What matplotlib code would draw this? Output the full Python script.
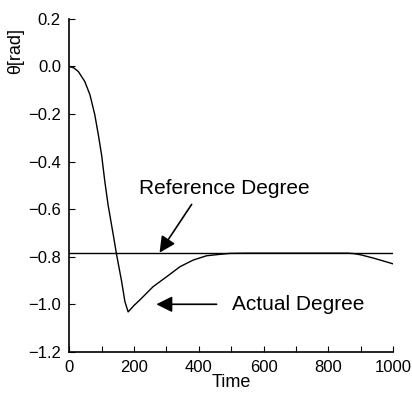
import numpy as np
import matplotlib
matplotlib.use("Agg")
import matplotlib.pyplot as plt
from matplotlib.ticker import MultipleLocator

plt.rcParams['font.family'] = ['Liberation Sans', 'DejaVu Sans']
plt.rcParams['axes.unicode_minus'] = True

# reference angle (constant)
ref_value = -0.785

# actual angle
time = [0, 14, 28, 48, 64, 79, 90, 100, 110, 120, 136, 146, 162, 172, 182, 200, 218,
        259, 301, 342, 383, 424, 465, 496, 550, 700, 860, 880, 900, 940, 970, 1000]
actual = [0.0, -0.006, -0.021, -0.063, -0.119, -0.203, -0.288, -0.372, -0.484, -0.582,
          -0.708, -0.789, -0.905, -0.989, -1.032, -1.005, -0.982, -0.926, -0.884, -0.842,
          -0.814, -0.796, -0.79, -0.786, -0.785, -0.785, -0.785, -0.787, -0.792, -0.806,
          -0.818, -0.83]

fig = plt.figure(figsize=(4.12, 3.94), dpi=100)
ax = fig.add_axes([0.168, 0.107, 0.786, 0.845])

ax.plot(time, actual, color='black', lw=1.0)
ax.axhline(ref_value, color='black', lw=1.0)

ax.set_xlim(0, 1000)
ax.set_ylim(-1.2, 0.2)
ax.xaxis.set_major_locator(MultipleLocator(200))
ax.xaxis.set_minor_locator(MultipleLocator(100))
ax.yaxis.set_major_locator(MultipleLocator(0.2))
ax.tick_params(direction='in', length=4, labelsize=12, width=0.8, pad=6)
ax.tick_params(which='minor', direction='in', length=4, width=0.8)
ax.spines['top'].set_visible(False)
ax.spines['right'].set_visible(False)
for s in ('left', 'bottom'):
    ax.spines[s].set_linewidth(1.2)

ax.set_xlabel('Time', fontsize=13, labelpad=-1)
ax.set_ylabel('θ[rad]', fontsize=13)
ax.yaxis.set_label_coords(-0.14, 0.905)

arrow = dict(arrowstyle='-|>', color='black', lw=1.2, mutation_scale=24, shrinkA=0, shrinkB=0)
ax.annotate('', xy=(279, -0.783), xytext=(378, -0.58), arrowprops=arrow)
ax.text(217, -0.515, 'Reference Degree', fontsize=15, va='center', ha='left')
ax.annotate('', xy=(269, -1.0), xytext=(455, -1.0), arrowprops=arrow)
ax.text(502, -1.0, 'Actual Degree', fontsize=15, va='center', ha='left')

fig.savefig('out.png', dpi=100)
